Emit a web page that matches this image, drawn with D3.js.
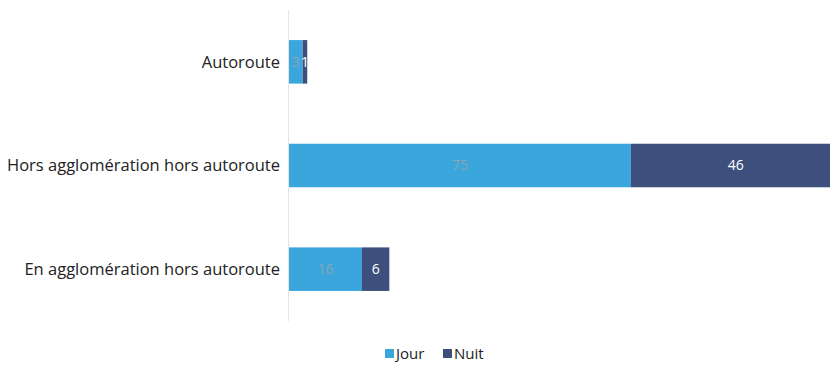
<!DOCTYPE html>
<html>
<head>
<meta charset="utf-8">
<script src="https://cdn.jsdelivr.net/npm/d3@7"></script>
<style>
  body { margin: 0; background: #fff; }
  svg { display: block; }
</style>
</head>
<body>
<div id="chart"></div>
<script>
// Data
const categories = ["Autoroute", "Hors agglomération hors autoroute", "En agglomération hors autoroute"];
const jour = [3, 75, 16];
const nuit = [1, 46, 6];
const seriesNames = ["Jour", "Nuit"];
const seriesColors = ["#3aa6dc", "#3e4f7d"];
const labelColors = ["#8aa3b5", "#ffffff"];

const width = 830, height = 365;
const axisX = 289;

const svg = d3.select("#chart").append("svg")
  .attr("width", width)
  .attr("height", height);

const y = d3.scaleBand()
  .domain(categories)
  .range([10, 321])
  .paddingInner(0.58)
  .paddingOuter(0.29);

// 100 units per 456 px, the right end of the big bar runs off the picture
const x = d3.scaleLinear()
  .domain([0, 100])
  .range([axisX, axisX + 456]);

const rows = categories.map((c, i) => ({ cat: c, values: [jour[i], nuit[i]] }));

// stacked segments
rows.forEach(r => {
  let start = 0;
  r.values.forEach((v, s) => {
    svg.append("rect")
      .attr("x", x(start))
      .attr("y", y(r.cat))
      .attr("width", x(start + v) - x(start))
      .attr("height", y.bandwidth())
      .attr("fill", seriesColors[s]);

    svg.append("text")
      .attr("x", (x(start) + x(start + v)) / 2)
      .attr("y", y(r.cat) + y.bandwidth() / 2)
      .attr("dy", "0.35em")
      .attr("text-anchor", "middle")
      .style("font-family", "Open Sans, sans-serif")
      .style("font-size", "14px")
      .style("fill", labelColors[s])
      .text(v);
    start += v;
  });
});

// vertical axis line
svg.append("line")
  .attr("x1", axisX - 0.5).attr("x2", axisX - 0.5)
  .attr("y1", 10).attr("y2", 321)
  .attr("stroke", "#e4e4e4");

// category labels
svg.selectAll(".cat")
  .data(categories)
  .enter().append("text")
  .attr("class", "cat")
  .attr("x", 280)
  .attr("y", d => y(d) + y.bandwidth() / 2)
  .attr("dy", "0.35em")
  .attr("text-anchor", "end")
  .style("font-family", "Open Sans, sans-serif")
  .style("font-size", "16.5px")
  .style("fill", "#222")
  .text(d => d);

// legend
const legend = svg.append("g").attr("transform", "translate(385,354)");
const legendX = [0, 58];
seriesNames.forEach((n, i) => {
  legend.append("rect")
    .attr("x", legendX[i])
    .attr("y", -5)
    .attr("width", 9)
    .attr("height", 9)
    .attr("fill", seriesColors[i]);
  legend.append("text")
    .attr("x", legendX[i] + 11)
    .attr("y", 0)
    .attr("dy", "0.35em")
    .style("font-family", "Open Sans, sans-serif")
    .style("font-size", "15px")
    .style("fill", "#222")
    .text(n);
});
</script>
</body>
</html>
